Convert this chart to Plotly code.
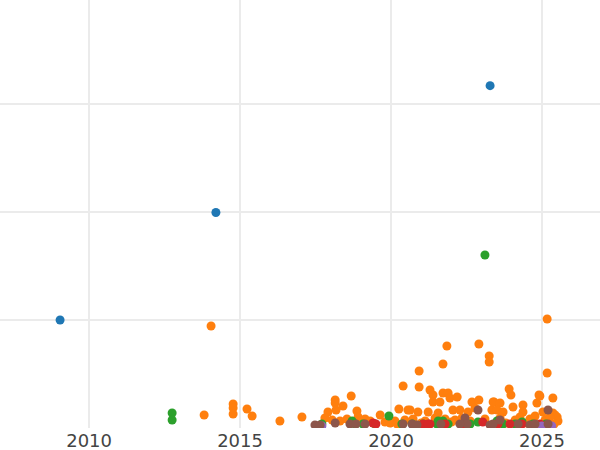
import plotly.graph_objects as go

# ---- data (decimal year, value) ----
blue_x = [2009.04, 2014.20, 2023.28]
blue_y = [100.0, 199.5, 317.0]

orange_x = [2014.04, 2013.81, 2014.77, 2014.77, 2014.77, 2015.23, 2015.40, 2016.32, 2017.05,
            2018.68, 2018.15, 2018.15, 2018.41, 2017.91, 2018.18, 2018.87, 2018.91, 2019.14, 2019.64,
            2020.40, 2020.26, 2020.56, 2021.85, 2022.91, 2023.25, 2023.25, 2021.72, 2020.93, 2020.93,
            2021.29, 2021.39, 2021.72, 2021.89, 2021.95, 2022.19, 2022.68, 2022.91, 2023.41, 2021.39,
            2021.62, 2020.63, 2020.89, 2021.23, 2021.56, 2022.05, 2022.28, 2022.55, 2022.78, 2023.34,
            2025.17, 2025.17, 2023.91, 2023.97, 2024.90, 2025.36, 2024.83, 2023.38, 2023.61, 2024.04,
            2024.37, 2023.51, 2023.71, 2024.37, 2025.03, 2025.36, 2025.50, 2024.93, 2025.43,
            2017.81, 2018.05, 2018.31, 2018.54, 2019.31, 2019.80, 2020.13, 2020.46, 2020.73, 2021.13,
            2021.46, 2021.79, 2022.12, 2022.35, 2022.62, 2023.11, 2023.61, 2024.11, 2024.27, 2024.60,
            2024.77, 2025.10, 2025.26, 2025.53, 2019.97, 2020.20, 2021.00, 2022.00, 2022.45, 2023.80,
            2024.50, 2025.40]
orange_y = [94.4, 12.0, 22.2, 18.5, 13.0, 17.6, 11.1, 6.5, 10.2,
            29.6, 25.9, 23.1, 20.4, 14.8, 16.7, 15.7, 10.2, 8.3, 12.0,
            38.9, 17.6, 16.7, 75.9, 77.8, 66.7, 61.1, 59.3, 52.8, 38.0,
            35.2, 30.6, 32.4, 32.4, 27.8, 28.7, 24.1, 25.9, 24.1, 24.1,
            24.1, 16.7, 14.8, 14.8, 13.9, 16.7, 16.7, 14.8, 18.5, 16.7,
            100.9, 50.9, 36.1, 30.6, 30.6, 27.8, 23.1, 24.1, 23.1, 19.4,
            21.3, 16.7, 14.8, 14.8, 14.8, 13.9, 10.2, 29.6, 12.0,
            9.3, 7.4, 6.5, 8.3, 6.5, 5.6, 6.5, 7.4, 8.3, 6.5,
            9.3, 8.3, 7.4, 9.3, 6.5, 8.3, 9.3, 7.4, 10.2, 8.3,
            11.1, 7.4, 10.2, 6.5, 4.6, 3.7, 4.6, 5.6, 4.6, 4.6,
            4.6, 3.7]

green_x = [2012.75, 2012.75, 2023.11, 2019.93, 2017.71, 2018.71, 2018.81, 2019.07, 2019.47,
           2020.36, 2020.70, 2021.06, 2021.52, 2021.72, 2021.89, 2022.62, 2022.88, 2023.51, 2023.71,
           2024.11, 2024.34, 2024.70, 2025.13, 2021.56]
green_y = [13.9, 7.4, 160.2, 11.1, 3.7, 6.5, 3.7, 3.7, 3.7,
           3.7, 3.7, 3.7, 3.7, 6.5, 3.7, 3.7, 5.6, 6.5, 3.7,
           3.7, 5.6, 3.7, 3.7, 6.5]

red_x = [2019.40, 2019.50, 2021.06, 2021.29, 2021.79, 2022.39, 2023.04, 2023.54, 2023.94,
         2024.34, 2024.93, 2025.17, 2021.23]
red_y = [4.6, 3.7, 3.7, 3.7, 3.7, 3.7, 5.6, 3.7, 3.7,
         3.7, 3.7, 2.8, 3.7]

purple_x = [2017.71, 2020.73, 2024.99, 2025.32]
purple_y = [1.9, 1.9, 1.9, 1.9]

brown_x = [2017.48, 2017.65, 2018.15, 2018.64, 2018.84, 2019.14, 2020.40, 2020.70, 2020.86, 2021.65,
           2022.45, 2022.88, 2023.61, 2022.52, 2023.28, 2024.21, 2024.60, 2025.20, 2025.20, 2023.38,
           2022.28, 2024.77]
brown_y = [2.8, 2.8, 4.6, 3.7, 3.7, 3.7, 3.7, 3.7, 2.8, 3.7,
           9.3, 16.7, 7.4, 3.7, 2.8, 3.7, 2.8, 16.7, 3.7, 3.7,
           3.7, 3.7]

series = [
    (blue_x, blue_y, "#1f77b4"),
    (orange_x, orange_y, "#ff7f0e"),
    (green_x, green_y, "#2ca02c"),
    (red_x, red_y, "#d62728"),
    (purple_x, purple_y, "#9467bd"),
    (brown_x, brown_y, "#8c564b"),
]

fig = go.Figure()
for xs, ys, col in series:
    fig.add_trace(go.Scatter(x=xs, y=ys, mode="markers",
                             marker=dict(color=col, size=9),
                             showlegend=False))

fig.update_layout(
    width=600, height=450,
    margin=dict(l=0, r=0, t=0, b=22),
    paper_bgcolor="white", plot_bgcolor="white",
    font=dict(family="DejaVu Sans", size=18, color="#444"),
    showlegend=False,
)
fig.update_xaxes(range=[2007.05, 2026.92], tick0=2010, dtick=5,
                 showgrid=True, gridcolor="#ebebeb", gridwidth=2,
                 zeroline=False, showline=False, ticks="")
fig.update_yaxes(range=[0, 396.3], dtick=100, showticklabels=False,
                 showgrid=True, gridcolor="#ebebeb", gridwidth=2,
                 zeroline=False, showline=False, ticks="")

fig.write_html("out.html",
               config={"displayModeBar": False},
               post_script="document.body.style.margin='0';document.body.style.padding='0';")
